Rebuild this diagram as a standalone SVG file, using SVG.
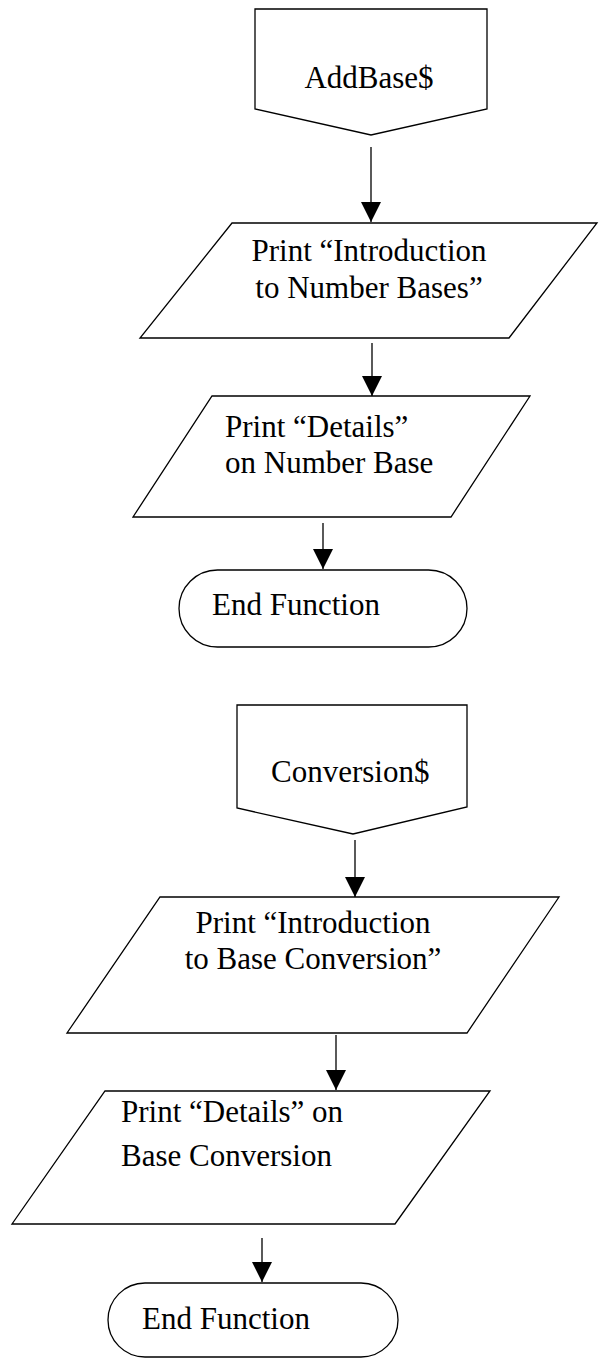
<svg xmlns="http://www.w3.org/2000/svg" width="599" height="1359" viewBox="0 0 599 1359">
<style>
.s{fill:#fff;stroke:#000;stroke-width:1.3;stroke-linejoin:miter}
.t{font-family:"Liberation Serif","Times New Roman",serif;font-size:31px;fill:#000}
.c{stroke:#000;stroke-width:1.3;fill:none}
</style>
<defs>
<marker id="ah" markerUnits="userSpaceOnUse" markerWidth="20" markerHeight="20" refX="20" refY="10" orient="auto">
<path d="M0,0 L20,10 L0,20 z" fill="#000"/>
</marker>
</defs>
<rect width="599" height="1359" fill="#fff"/>
<g id="n_addbase">
<polygon class="s" points="255,9 487,9 487,109 371,135 255,109"/>
<text class="t" x="369" y="88" text-anchor="middle">AddBase$</text>
</g>
<g id="n_print_intro1">
<polygon class="s" points="232,223 597,223 509,338 140,338"/>
<text class="t" x="369" y="261" text-anchor="middle">Print “Introduction</text>
<text class="t" x="369" y="298" text-anchor="middle">to Number Bases”</text>
</g>
<g id="n_print_details1">
<polygon class="s" points="212,396 530,396 451,517 133,517"/>
<text class="t" x="225" y="437">Print “Details”</text>
<text class="t" x="225" y="473">on Number Base</text>
</g>
<g id="n_end1">
<rect class="s" x="179" y="570" width="288" height="77" rx="38.5" ry="38.5"/>
<text class="t" x="212" y="615">End Function</text>
</g>
<g id="n_conversion">
<polygon class="s" points="237,705 467,705 467,807 353,834 237,808"/>
<text class="t" x="271" y="782">Conversion$</text>
</g>
<g id="n_print_intro2">
<polygon class="s" points="160,897 559,897 467,1033 67,1033"/>
<text class="t" x="313" y="933" text-anchor="middle">Print “Introduction</text>
<text class="t" x="313" y="969" text-anchor="middle">to Base Conversion”</text>
</g>
<g id="n_print_details2">
<polygon class="s" points="105,1091 490,1091 395,1224 12,1224"/>
<text class="t" x="121" y="1122">Print “Details” on</text>
<text class="t" x="121" y="1166">Base Conversion</text>
</g>
<g id="n_end2">
<rect class="s" x="108" y="1283" width="290" height="74" rx="37" ry="37"/>
<text class="t" x="142" y="1329">End Function</text>
</g>
<g id="connectors">
<line class="c" x1="371" y1="147" x2="371" y2="222" marker-end="url(#ah)"/>
<line class="c" x1="372" y1="343" x2="372" y2="396" marker-end="url(#ah)"/>
<line class="c" x1="323" y1="523" x2="323" y2="569" marker-end="url(#ah)"/>
<line class="c" x1="355" y1="840" x2="355" y2="897" marker-end="url(#ah)"/>
<line class="c" x1="336" y1="1035" x2="336" y2="1090" marker-end="url(#ah)"/>
<line class="c" x1="262" y1="1238" x2="262" y2="1282" marker-end="url(#ah)"/>
</g>
</svg>
